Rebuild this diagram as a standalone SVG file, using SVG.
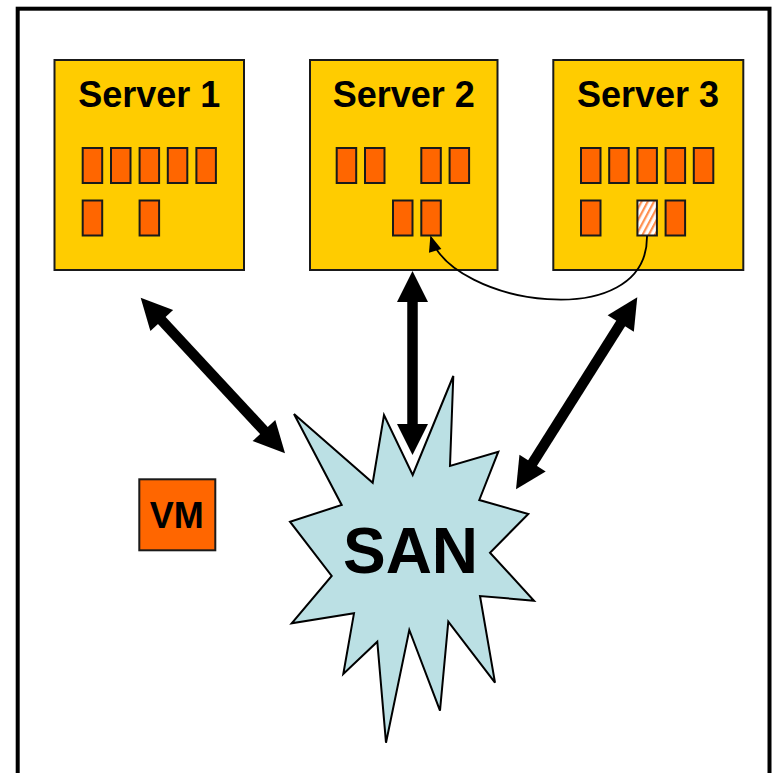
<svg xmlns="http://www.w3.org/2000/svg" width="774" height="773" viewBox="0 0 774 773">
  <style>
    .frame { fill: #ffffff; stroke: #000000; stroke-width: 4; }
    .server { fill: #FFCC00; stroke: #1a1a1a; stroke-width: 2; }
    .slot { fill: #FF6600; stroke: #1a1a1a; stroke-width: 2; }
    .slot-moving { fill: url(#hatch); stroke: #1a1a1a; stroke-width: 2; }
    .title { font-family: "Liberation Sans", Arial, sans-serif; font-weight: bold; font-size: 36px; fill: #000000; text-anchor: middle; }
    .san-label { font-family: "Liberation Sans", Arial, sans-serif; font-weight: bold; font-size: 64px; fill: #000000; text-anchor: middle; }
    .link { fill: none; stroke: #000000; stroke-width: 10.5; marker-start: url(#bigHead); marker-end: url(#bigHead); }
    .migrate { fill: none; stroke: #000000; stroke-width: 1.8; marker-end: url(#smallHead); }
  </style>
  <defs>
    <marker id="bigHead" markerUnits="userSpaceOnUse" markerWidth="31" markerHeight="31" refX="2" refY="15.5" orient="auto-start-reverse" overflow="visible">
      <path d="M0,0 L31,15.5 L0,31 Z" fill="#000000"/>
    </marker>
    <marker id="smallHead" markerUnits="userSpaceOnUse" markerWidth="16" markerHeight="13" refX="14" refY="6.5" orient="auto" overflow="visible">
      <path d="M0,0 L16,6.5 L0,13 Z" fill="#000000"/>
    </marker>
    <pattern id="hatch" patternUnits="userSpaceOnUse" width="5.5" height="5.5" patternTransform="rotate(28)">
      <rect width="5.5" height="5.5" fill="#ffffff"/>
      <rect width="2.2" height="5.5" fill="#FF9050"/>
    </pattern>
  </defs>

  <!-- outer frame -->
  <rect class="frame" x="17.7" y="8.7" width="751.8" height="790"/>

  <!-- hosts -->
  <g id="server1">
    <rect class="server" x="54.5" y="60" width="189.5" height="210"/>
    <text class="title" x="149.3" y="107">Server 1</text>
    <rect class="slot" x="82.7" y="148" width="19.5" height="35"/>
    <rect class="slot" x="111" y="148" width="19.5" height="35"/>
    <rect class="slot" x="139.6" y="148" width="19.5" height="35"/>
    <rect class="slot" x="167.8" y="148" width="19.5" height="35"/>
    <rect class="slot" x="196.4" y="148" width="19.5" height="35"/>
    <rect class="slot" x="82.7" y="200.5" width="19.5" height="35"/>
    <rect class="slot" x="139.6" y="200.5" width="19.5" height="35"/>
  </g>

  <g id="server2">
    <rect class="server" x="310" y="60" width="187.5" height="210"/>
    <text class="title" x="403.7" y="107">Server 2</text>
    <rect class="slot" x="336.7" y="148" width="19.5" height="35"/>
    <rect class="slot" x="365" y="148" width="19.5" height="35"/>
    <rect class="slot" x="421.3" y="148" width="19.5" height="35"/>
    <rect class="slot" x="449.6" y="148" width="19.5" height="35"/>
    <rect class="slot" x="393" y="200.5" width="19.5" height="35"/>
    <rect class="slot" x="421.3" y="200.5" width="19.5" height="35"/>
  </g>

  <g id="server3">
    <rect class="server" x="553.3" y="60" width="190" height="210"/>
    <text class="title" x="648" y="107">Server 3</text>
    <rect class="slot" x="581" y="148" width="19.5" height="35"/>
    <rect class="slot" x="609.2" y="148" width="19.5" height="35"/>
    <rect class="slot" x="637.4" y="148" width="19.5" height="35"/>
    <rect class="slot" x="665.6" y="148" width="19.5" height="35"/>
    <rect class="slot" x="693.8" y="148" width="19.5" height="35"/>
    <rect class="slot" x="581" y="200.5" width="19.5" height="35"/>
    <rect class="slot-moving" x="637.4" y="200.5" width="19.5" height="35"/>
    <rect class="slot" x="665.6" y="200.5" width="19.5" height="35"/>
  </g>

  <!-- storage network burst -->
  <g id="san">
    <polygon fill="#BBE0E4" stroke="#000000" stroke-width="2" stroke-linejoin="miter"
      points="453.3,376 450,466 498.3,451.7 479.3,500 528.3,514 490,552.7 534,600.7 480,596 495,682.7 448.3,621.7 440,710.7 409.3,630 386,742.7 377.3,641.7 343.3,674 354,613.3 291.7,623.3 331.7,576 290,521.7 341.7,505 294,414 372.7,482.7 384,415 412.7,475"/>
    <text class="san-label" x="410.5" y="573">SAN</text>
  </g>

  <!-- legend box -->
  <g id="vm">
    <rect x="139.3" y="479.3" width="76" height="71" fill="#FF6600" stroke="#1a1a1a" stroke-width="2"/>
    <text class="title" x="176.8" y="528.3">VM</text>
  </g>

  <!-- links between hosts and storage, and the migration path -->
  <g id="connectors">
    <line class="link" x1="160.4" y1="319" x2="265.3" y2="432"/>
    <line class="link" x1="412.5" y1="300" x2="412.5" y2="426"/>
    <line class="link" x1="621.8" y1="321.8" x2="531.5" y2="464.8"/>
    <path class="migrate" d="M647,236 C648,335 452,305 431,237.5"/>
  </g>
</svg>
